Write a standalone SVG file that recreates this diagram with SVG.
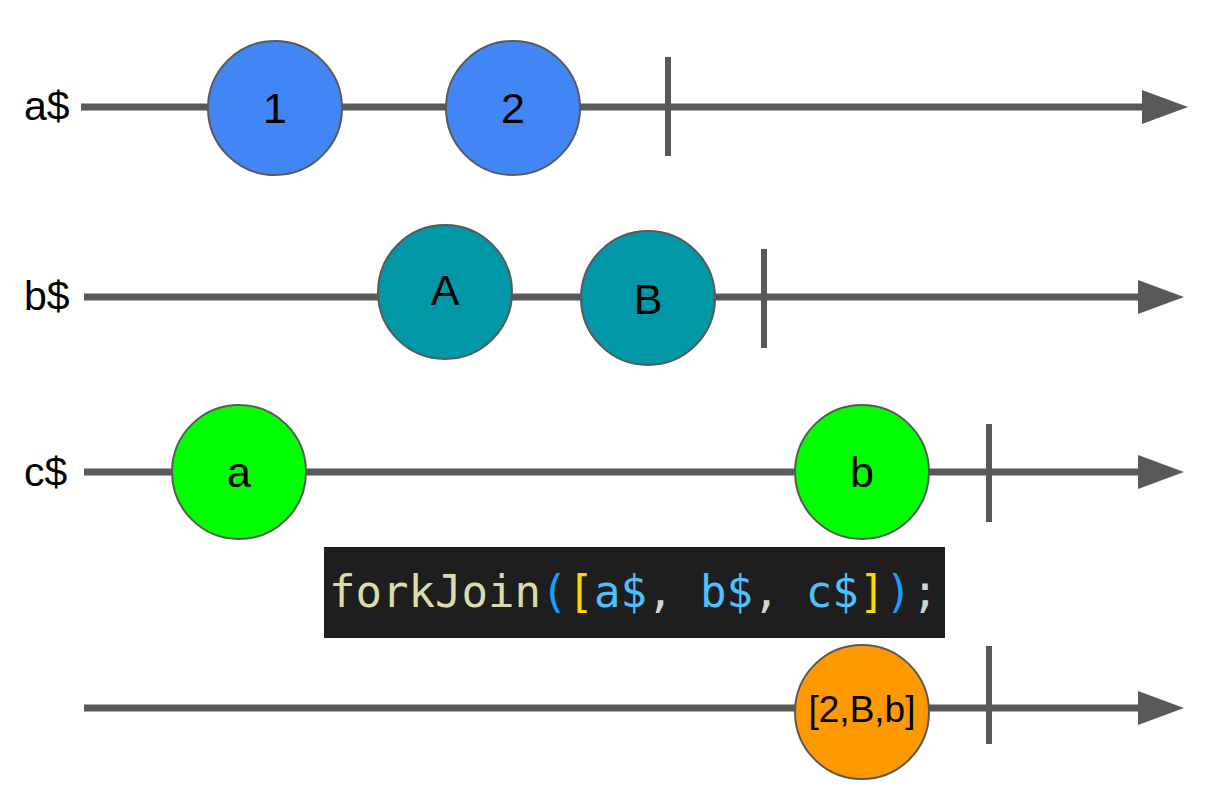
<svg xmlns="http://www.w3.org/2000/svg" width="1213" height="811" viewBox="0 0 1213 811">
<style>
.ln{stroke:#595959;stroke-width:7;fill:none}
.tk{stroke:#595959;stroke-width:6;fill:none}
.c{stroke:#595959;stroke-width:2}
.t{font-family:"Liberation Sans",Arial,sans-serif;font-size:43px;fill:#000;text-anchor:middle}
.lb{font-family:"Liberation Sans",Arial,sans-serif;font-size:41px;fill:#000}
.code{font-family:"DejaVu Sans Mono",monospace;font-size:44px}
</style>
<defs>
<marker id="ah" markerUnits="userSpaceOnUse" markerWidth="48" markerHeight="36" refX="1" refY="17" orient="auto" overflow="visible">
<path d="M0,0 L46,17 L0,34 Z" fill="#595959"/>
</marker>
</defs>
<rect width="1213" height="811" fill="#fff"/>
<g id="connectors">
<line class="ln" x1="81" y1="107" x2="1143" y2="107" marker-end="url(#ah)"/>
<line class="tk" x1="668" y1="57" x2="668" y2="156"/>
<line class="ln" x1="84" y1="297" x2="1139" y2="297" marker-end="url(#ah)"/>
<line class="tk" x1="764" y1="249" x2="764" y2="348"/>
<line class="ln" x1="84" y1="472" x2="1139" y2="472" marker-end="url(#ah)"/>
<line class="tk" x1="989" y1="424" x2="989" y2="522"/>
<line class="ln" x1="84" y1="708" x2="1139" y2="708" marker-end="url(#ah)"/>
<line class="tk" x1="989" y1="646" x2="989" y2="744"/>
</g>
<g id="labels">
<text class="lb" x="24" y="120">a$</text>
<text class="lb" x="24" y="310">b$</text>
<text class="lb" x="24" y="486">c$</text>
</g>
<g id="n1"><circle class="c" cx="275" cy="108" r="67" fill="#4285F4"/><text class="t" x="275" y="123">1</text></g>
<g id="n2"><circle class="c" cx="513" cy="108" r="67" fill="#4285F4"/><text class="t" x="513" y="123">2</text></g>
<g id="nA"><circle class="c" cx="445" cy="292" r="67" fill="#0097A7"/><text class="t" x="445" y="305">A</text></g>
<g id="nB"><circle class="c" cx="648" cy="298" r="67" fill="#0097A7"/><text class="t" x="648" y="314">B</text></g>
<g id="na"><circle class="c" cx="239" cy="472" r="67" fill="#00FF00"/><text class="t" x="239" y="487">a</text></g>
<g id="nb"><circle class="c" cx="862" cy="472" r="67" fill="#00FF00"/><text class="t" x="862" y="487">b</text></g>
<g id="code">
<rect x="324" y="547" width="621" height="91" fill="#1E1E1E"/>
<text class="code" x="329" y="607" xml:space="preserve"><tspan fill="#DCDCAA">forkJoin</tspan><tspan fill="#179FFF">(</tspan><tspan fill="#FFD700">[</tspan><tspan fill="#4FC1FF">a$</tspan><tspan fill="#D4D4D4">, </tspan><tspan fill="#4FC1FF">b$</tspan><tspan fill="#D4D4D4">, </tspan><tspan fill="#4FC1FF">c$</tspan><tspan fill="#FFD700">]</tspan><tspan fill="#179FFF">)</tspan><tspan fill="#D4D4D4">;</tspan></text>
</g>
<g id="nr"><circle class="c" cx="862" cy="712" r="67" fill="#FF9900"/><text class="t" x="862" y="722" style="font-size:37px">[2,B,b]</text></g>
</svg>
